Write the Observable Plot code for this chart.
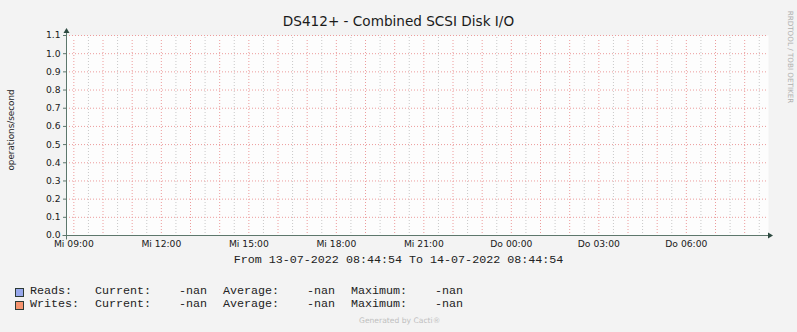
<!DOCTYPE html>
<html>
<head>
<meta charset="utf-8">
<script src="https://cdn.jsdelivr.net/npm/d3@7"></script>
<script src="https://cdn.jsdelivr.net/npm/@observablehq/plot@0.6"></script>
<style>
  html, body { margin: 0; padding: 0; background: #f3f3f3; }
  #graph { position: relative; width: 797px; height: 332px; background: #f3f3f3; overflow: hidden; }
  #graph svg { position: absolute; left: 0; top: 0; }
  .t { position: absolute; white-space: pre; line-height: 1; }
  .sans { font-family: "DejaVu Sans", sans-serif; color: #1a1a1a; }
  .mono { font-family: "Liberation Mono", "DejaVu Sans Mono", monospace; font-size: 11.7px; color: #222; }
  .swatch { position: absolute; width: 7px; height: 7px; border: 1px solid #2c3a35; }
</style>
</head>
<body>
<div id="graph"></div>
<script>
// Graph definition
const title = "DS412+ - Combined SCSI Disk I/O";
const yLabel = "operations/second";
const rangeStart = "2022-07-13T08:44:54Z";
const rangeEnd = "2022-07-14T08:44:54Z";
const rangeText = "From 13-07-2022 08:44:54 To 14-07-2022 08:44:54";

// Axis ticks
const xTickTimes = [
  "2022-07-13T09:00:00Z", "2022-07-13T12:00:00Z", "2022-07-13T15:00:00Z", "2022-07-13T18:00:00Z",
  "2022-07-13T21:00:00Z", "2022-07-14T00:00:00Z", "2022-07-14T03:00:00Z", "2022-07-14T06:00:00Z"
];
const xTickLabels = ["Mi 09:00", "Mi 12:00", "Mi 15:00", "Mi 18:00", "Mi 21:00", "Do 00:00", "Do 03:00", "Do 06:00"];
const yTicks = [0.0, 0.1, 0.2, 0.3, 0.4, 0.5, 0.6, 0.7, 0.8, 0.9, 1.0, 1.1];

// Series (no samples were recorded in this period)
const seriesNames = ["Reads", "Writes"];
const seriesColors = ["#98a8ec", "#f6946f"];
const readsSamples = [];   // [{time, value}]
const writesSamples = [];  // [{time, value}]
const readsStats = { current: "-nan", average: "-nan", maximum: "-nan" };
const writesStats = { current: "-nan", average: "-nan", maximum: "-nan" };

const t0 = new Date(rangeStart), t1 = new Date(rangeEnd);
const tickDates = xTickTimes.map(s => new Date(s));
const majorGrid = d3.utcHour.range(t0, t1);
const minorGrid = d3.utcMinute.every(30).range(t0, t1).filter(d => d.getUTCMinutes() === 30);

// Axis lines with arrow heads, drawn from the frame dimensions
function axisArrows(index, scales, values, dims) {
  const left = dims.marginLeft + 0.5;
  const right = dims.width - dims.marginRight;
  const bottom = dims.height - dims.marginBottom + 0.5;
  const top = dims.marginTop;
  const g = d3.create("svg:g");
  g.append("line").attr("x1", left - 4).attr("x2", right + 2).attr("y1", bottom).attr("y2", bottom)
    .attr("stroke", "#5d776c").attr("stroke-width", 1);
  g.append("line").attr("x1", left).attr("x2", left).attr("y1", bottom + 4).attr("y2", top - 2)
    .attr("stroke", "#5d776c").attr("stroke-width", 1);
  g.append("path").attr("d", `M${right + 2},${bottom - 3}L${right + 7},${bottom}L${right + 2},${bottom + 3}Z`)
    .attr("fill", "#2d4a40");
  g.append("path").attr("d", `M${left - 3},${top - 2}L${left},${top - 7}L${left + 3},${top - 2}Z`)
    .attr("fill", "#2d4a40");
  return g.node();
}

const svg = Plot.plot({
  width: 797,
  height: 332,
  marginLeft: 66,
  marginRight: 31,
  marginTop: 35,
  marginBottom: 97,
  style: { background: "transparent", fontFamily: "DejaVu Sans, sans-serif", fontSize: "9.2px", color: "#1a1a1a" },
  x: { type: "utc", domain: [t0, t1] },
  y: { domain: [0, 1.1] },
  marks: [
    Plot.frame({ fill: "#fdfdfd", stroke: null, insetRight: -2 }),
    Plot.ruleX(minorGrid, { x: d => d, y1: 0, y2: 1.1, stroke: "#c8c8c8", strokeDasharray: "1,2", insetTop: -2 }),
    Plot.ruleX(majorGrid, { x: d => d, y1: 0, y2: 1.1, stroke: "#ec9c9c", strokeDasharray: "1,2", insetTop: -2, insetBottom: -3 }),
    Plot.ruleY(yTicks, { y: d => d, stroke: "#ec9c9c", strokeDasharray: "1,2" }),
    Plot.lineY(readsSamples, { x: "time", y: "value", stroke: seriesColors[0] }),
    Plot.lineY(writesSamples, { x: "time", y: "value", stroke: seriesColors[1] }),
    Plot.axisY({ ticks: yTicks, tickFormat: d => d.toFixed(1), tickSize: 3, tickPadding: 3, stroke: "#5d776c", label: null }),
    Plot.axisX({ ticks: tickDates, tickFormat: (d, i) => xTickLabels[i], tickSize: 0, tickPadding: 5, label: null }),
    axisArrows
  ]
});

const graph = document.getElementById("graph");
graph.appendChild(svg);

function addText(text, cls, styles) {
  const el = document.createElement("div");
  el.className = "t " + cls;
  el.textContent = text;
  Object.assign(el.style, styles);
  graph.appendChild(el);
  return el;
}

// Title
addText(title, "sans", { left: "0", width: "797px", textAlign: "center", top: "15px", fontSize: "13.6px" });
// Vertical axis label
addText(yLabel, "sans", { left: "11px", top: "130px", fontSize: "8.8px",
  transform: "translate(-50%,-50%) rotate(-90deg)", color: "#222" });
// Watermark
addText("RRDTOOL / TOBI OETIKER", "sans", { left: "790px", top: "57px", fontSize: "7.2px", color: "#b0b0b0",
  transform: "translate(-50%,-50%) rotate(90deg)" });
// Period
addText(rangeText, "mono", { left: "0", width: "797px", textAlign: "center", top: "255px" });

// Legend rows
const legendRows = [
  { name: seriesNames[0], color: seriesColors[0], stats: readsStats, top: 286 },
  { name: seriesNames[1], color: seriesColors[1], stats: writesStats, top: 299 }
];
legendRows.forEach(r => {
  const sw = document.createElement("div");
  sw.className = "swatch";
  Object.assign(sw.style, { left: "15px", top: (r.top + 1.5) + "px", background: r.color });
  graph.appendChild(sw);
  addText(r.name + ":", "mono", { left: "30px", top: r.top + "px" });
  addText("Current:", "mono", { left: "95px", top: r.top + "px" });
  addText(r.stats.current, "mono", { left: "179px", top: r.top + "px" });
  addText("Average:", "mono", { left: "223px", top: r.top + "px" });
  addText(r.stats.average, "mono", { left: "307px", top: r.top + "px" });
  addText("Maximum:", "mono", { left: "351px", top: r.top + "px" });
  addText(r.stats.maximum, "mono", { left: "435px", top: r.top + "px" });
});

// Footer
addText("Generated by Cacti®", "sans", { left: "359px", top: "317px", fontSize: "7.6px", color: "#c0c0c0" });
</script>
</body>
</html>
